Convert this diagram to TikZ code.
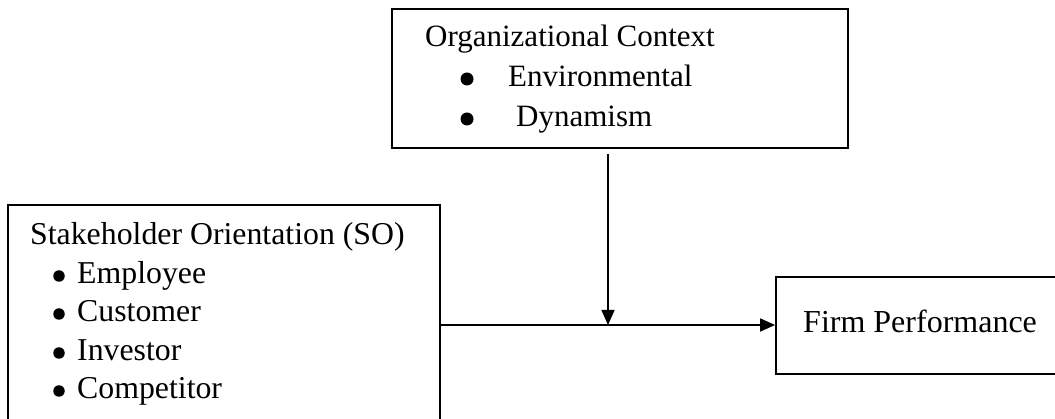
\documentclass[tikz,border=0pt]{standalone}
\usepackage{fontspec}
\setmainfont{Liberation Serif}
\usetikzlibrary{arrows.meta}
\begin{document}
\begin{tikzpicture}[x=1pt,y=-1pt,
  box/.style={draw,line width=1.8pt,inner sep=0pt},
  txt/.style={anchor=base west,inner sep=0pt,font=\fontsize{31}{38}\selectfont},
  txtb/.style={anchor=base west,inner sep=0pt,font=\fontsize{31.8}{38}\selectfont},
  bigdot/.style={circle,fill,inner sep=0pt,minimum size=13pt},
  smalldot/.style={circle,fill,inner sep=0pt,minimum size=11.5pt},
  arr/.style={line width=1.6pt,-{Triangle[length=15pt,width=13pt]}}]
\useasboundingbox (0,0) rectangle (1055,419);
% boxes
\node[box,minimum width=456pt,minimum height=139pt] (ctx) at (620,78.5) {};
\node[box,minimum width=432pt,minimum height=230pt] (so) at (224,320) {};
\node[box,minimum width=290pt,minimum height=97pt] (firm) at (921,325.5) {};
% texts
\node[txt] (t1) at (425,47) {Organizational Context};
\node[bigdot] (b1) at (467,79) {};
\node[txt] (t2) at (508,87) {Environmental};
\node[bigdot] (b2) at (467,119) {};
\node[txt] (t3) at (516,127) {Dynamism};
\node[txtb] (s0) at (30,245) {Stakeholder Orientation (SO)};
\node[smalldot] (d1) at (59,276) {};
\node[txtb] (s1) at (77,284) {Employee};
\node[smalldot] (d2) at (59,314) {};
\node[txtb] (s2) at (77,322) {Customer};
\node[smalldot] (d3) at (59,353) {};
\node[txtb] (s3) at (77,361) {Investor};
\node[smalldot] (d4) at (59,391) {};
\node[txtb] (s4) at (77,399) {Competitor};
\node[txt,font=\fontsize{32}{38}\selectfont] (f0) at (803,333) {Firm Performance};
% connectors
\coordinate (j) at (608,325);
\draw[arr,shorten <=5pt] (j |- ctx.south) -- (j);
\draw[arr] (so.east |- j) -- (firm.west |- j);
\end{tikzpicture}
\end{document}
